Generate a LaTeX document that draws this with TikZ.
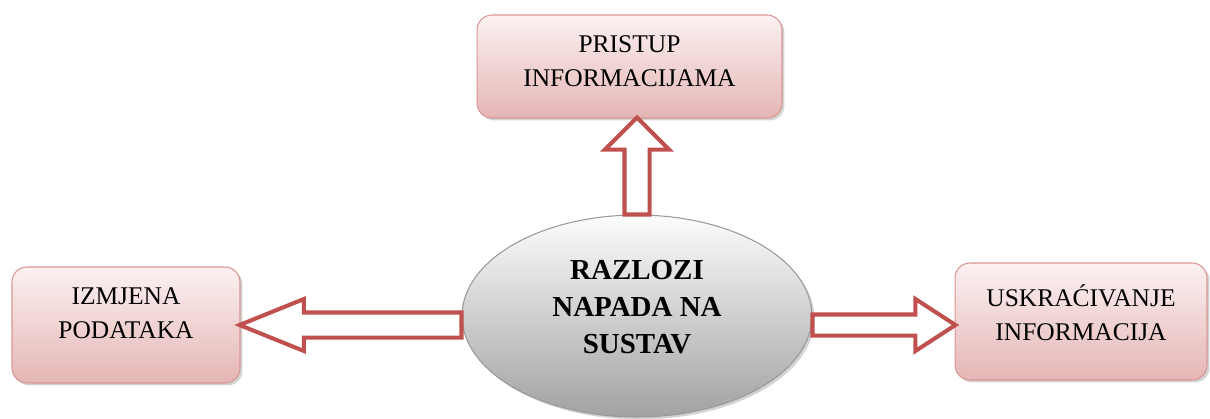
\documentclass[tikz,border=0pt]{standalone}
\usepackage{fontspec}
\setmainfont{Liberation Serif}
\usetikzlibrary{shapes.geometric,shapes.arrows,shadows}
\definecolor{boxtop}{HTML}{FCF1F1}
\definecolor{boxbot}{HTML}{E4B6B5}
\definecolor{boxline}{HTML}{D99694}
\definecolor{arrowred}{HTML}{C0504D}
\definecolor{ovaltop}{HTML}{FCFCFC}
\definecolor{ovalbot}{HTML}{A2A2A2}
\tikzset{
  infobox/.style={rectangle, rounded corners=0.3cm, draw=boxline, line width=0.6pt,
    top color=boxtop, bottom color=boxbot, align=center, inner sep=0pt,
    drop shadow={shadow xshift=0.05cm, shadow yshift=-0.05cm, opacity=0.35},
    font=\fontsize{14.5}{19.5}\selectfont},
  oval/.style={ellipse, draw=gray!80, line width=0.6pt, top color=ovaltop, bottom color=ovalbot,
    align=center, inner sep=0pt,
    drop shadow={shadow xshift=0.05cm, shadow yshift=-0.05cm, opacity=0.35},
    font=\fontsize{16.5}{21}\selectfont\bfseries},
  blockarrow/.style={single arrow, draw=arrowred, fill=white, line width=2.3pt,
    inner xsep=0pt, outer sep=0pt, anchor=tail}
}

\begin{document}
\begin{tikzpicture}[x=0.02cm,y=-0.02cm]
  \useasboundingbox (0,0) rectangle (1210,419);
  % centre and the three outcomes
  \node[oval, minimum width=7cm, minimum height=4.04cm] (razlozi) at (637,316)
    {RAZLOZI\\NAPADA NA\\SUSTAV\\[-10.8pt]\mbox{}};
  \node[infobox, minimum width=6.1cm, minimum height=2.06cm] (pristup) at (629.5,66.5)
    {PRISTUP\\INFORMACIJAMA\\[-13.3pt]\mbox{}};
  \node[infobox, minimum width=4.56cm, minimum height=2.32cm] (izmjena) at (126,325)
    {IZMJENA\\PODATAKA\\[-5.9pt]\mbox{}};
  \node[infobox, minimum width=5.04cm, minimum height=2.34cm] (uskracivanje) at (1081,321.5)
    {USKRAĆIVANJE\\INFORMACIJA\\[-9.3pt]\mbox{}};
  % block arrows
  \node[blockarrow, rotate=90, minimum height=1.94cm, minimum width=1.2cm, inner ysep=0.21cm,
    single arrow head extend=0.39cm, single arrow tip angle=90] (toPristup) at (razlozi.north) {};
  \node[blockarrow, rotate=180, minimum height=4.44cm, minimum width=0.96cm, inner ysep=0.21cm,
    single arrow head extend=0.27cm, single arrow tip angle=44] (toIzmjena) at (razlozi.west |- izmjena.east) {};
  \node[blockarrow, minimum height=2.86cm, minimum width=0.96cm, inner ysep=0.17cm,
    single arrow head extend=0.31cm, single arrow tip angle=66] (toUskracivanje) at (razlozi.east |- izmjena.east) {};
\end{tikzpicture}
\end{document}
